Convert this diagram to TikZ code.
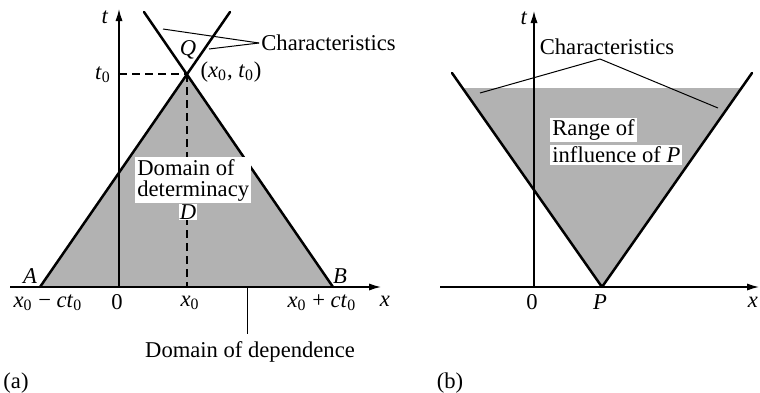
\documentclass[tikz,border=0pt]{standalone}
\usepackage{fontspec}
\setmainfont{Liberation Serif}
\usetikzlibrary{arrows.meta}
\newcommand\vi[1]{\textit{#1}}
\newcommand\sbz{\textsubscript{0}}
\begin{document}
\begin{tikzpicture}[x=0.5pt,y=-0.5pt,
  every node/.style={font=\fontsize{11.3}{13}\selectfont, inner sep=1pt},
  shadefill/.style={fill=black!30},
  charline/.style={line width=1.25pt, line cap=round},
  axisline/.style={line width=0.7pt, -{Latex[length=6pt,width=3.6pt]}},
  dashline/.style={line width=1.35pt, dash pattern=on 4pt off 2.5pt},
  leader/.style={line width=0.5pt},
  whitelab/.style={fill=white, inner sep=1pt, anchor=west}]
\useasboundingbox (0,0) rectangle (760,392);
% ---------- (a) ----------
\coordinate (A) at (40,287);
\coordinate (Q) at (187,74);
\coordinate (B) at (333,287);
\coordinate (Qr) at (230,12);
\coordinate (Ql) at (144,12);
\coordinate (xa0) at (10,287);
\coordinate (xa1) at (381,287);
\coordinate (ta0) at (119,287);
\coordinate (ta1) at (119,9);
\coordinate (t0) at (119,74);
\coordinate (x0) at (187,287);
\fill[shadefill] (A) -- (Q) -- (B) -- cycle;
\draw[line width=1pt] (A) -- (B);
\draw[axisline] (xa0) -- (xa1);
\draw[axisline] (ta0) -- (ta1);
\draw[charline] (A) -- (Qr);
\draw[charline] (B) -- (Ql);
\draw[dashline] (t0) -- (Q);
\draw[dashline] (Q) -- (x0);
\node[whitelab, align=left, font=\fontsize{11.3}{10.5}\selectfont] (dom) at (135,180) {Domain of\\determinacy};
\node[fill=white, inner sep=0.5pt] (D) at (188,212) {\vi{D}};
\node (lt) at (105,17) {\vi{t}};
\node (lt0) at (103,75) {\vi{t}\sbz};
\node (lQ) at (188,50) {\vi{Q}};
\node (lQc) at (231,72) {(\vi{x}\sbz, \vi{t}\sbz)};
\node[anchor=west] (cha) at (259,43) {Characteristics};
\coordinate (ca1) at (163,29);
\coordinate (ca2) at (209,49);
\draw[leader] (cha.west) -- (ca1);
\draw[leader] (cha.west) -- (ca2);
\node (lA) at (30,276) {\vi{A}};
\node (lB) at (340,276) {\vi{B}};
\node (lxm) at (48,303) {\vi{x}\sbz\ − \vi{ct}\sbz};
\node (l0a) at (117,302) {0};
\node (lx0) at (190,303) {\vi{x}\sbz};
\node (lxp) at (322,303) {\vi{x}\sbz\ + \vi{ct}\sbz};
\node (lxa) at (385,301) {\vi{x}};
\coordinate (tk0) at (247,287);
\coordinate (tk1) at (247,334);
\draw[leader] (tk0) -- (tk1);
\node (ldep) at (250,352) {Domain of dependence};
\node (la) at (16,383) {(a)};
% ---------- (b) ----------
\coordinate (P) at (602,287);
\coordinate (Lb) at (452,73);
\coordinate (Rb) at (752,73);
\coordinate (Ls) at (462.5,88);
\coordinate (Rs) at (741.5,88);
\coordinate (xb0) at (440,287);
\coordinate (xb1) at (759,287);
\coordinate (tb0) at (534,287);
\coordinate (tb1) at (534,11);
\fill[shadefill] (P) -- (Ls) -- (Rs) -- cycle;
\draw[axisline] (xb0) -- (xb1);
\draw[axisline] (tb0) -- (tb1);
\draw[charline] (P) -- (Lb);
\draw[charline] (P) -- (Rb);
\node (ltb) at (524,18) {\vi{t}};
\node (chb) at (607,47) {Characteristics};
\coordinate (cbp) at (600,59);
\coordinate (cb1) at (480,93);
\coordinate (cb2) at (718,108);
\draw[leader] (cbp) -- (cb1);
\draw[leader] (cbp) -- (cb2);
\node[whitelab] (rng1) at (550,130) {Range of};
\node[whitelab] (rng2) at (550,155) {influence of \vi{P}};
\node (l0b) at (532,302) {0};
\node (lP) at (600,302) {\vi{P}};
\node (lxb) at (753,302) {\vi{x}};
\node (lb) at (450,383) {(b)};
\end{tikzpicture}
\end{document}
